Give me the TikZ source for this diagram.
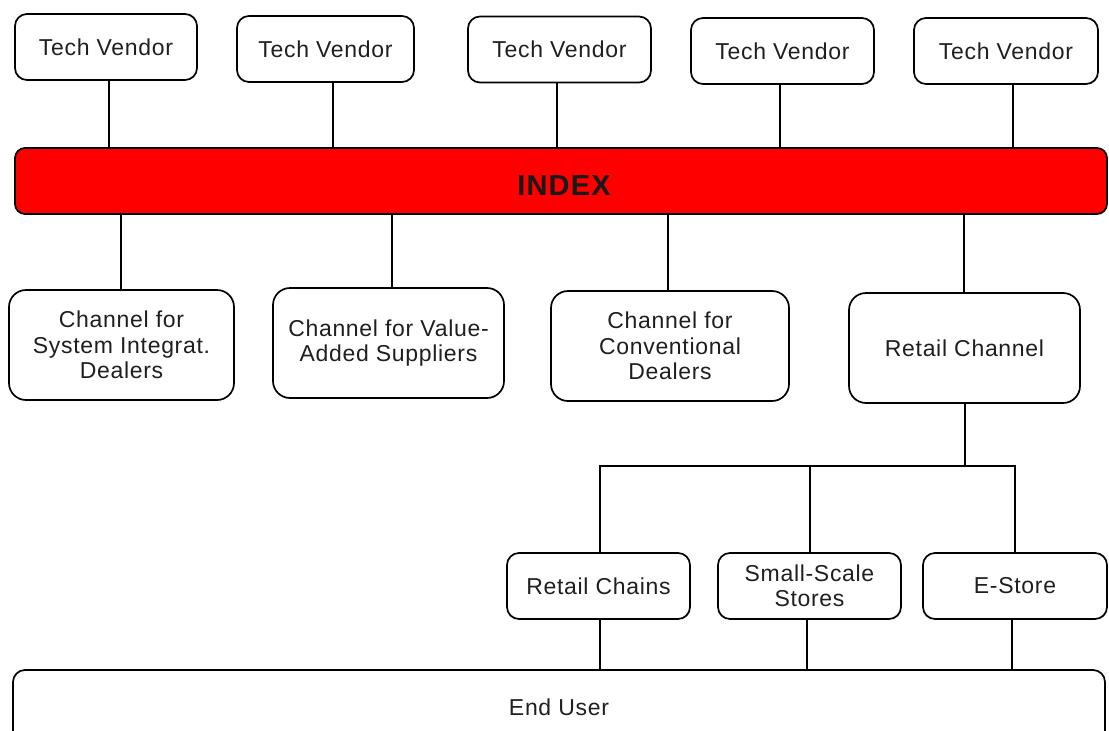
\documentclass[tikz,border=0pt]{standalone}
\usepackage{fontspec}
\setmainfont{Liberation Sans}
\usetikzlibrary{calc}
\begin{document}
\begin{tikzpicture}[x=1pt,y=-1pt,
  box/.style={draw=black, line width=1.7pt, rounded corners=12pt, fill=white,
    align=center, inner sep=0pt, text=black!88,
    font=\fontsize{23}{25.5}\selectfont\addfontfeatures{LetterSpace=3}},
  small/.style={box, minimum height=66pt},
  chan/.style={box, minimum height=110pt, rounded corners=17pt},
  link/.style={line width=2pt, draw=black}]
\useasboundingbox (0,0) rectangle (1109,731);
\clip (0,0) rectangle (1109,731);
\fill[white] (0,0) rectangle (1109,731);

% tech vendors
\node[small, minimum width=182pt] (tv1) at (106,47) {Tech Vendor};
\node[small, minimum width=177pt] (tv2) at (325.5,49) {Tech Vendor};
\node[small, minimum width=183pt] (tv3) at (559.5,49.5) {Tech Vendor};
\node[small, minimum width=183pt] (tv4) at (782.5,51) {Tech Vendor};
\node[small, minimum width=184pt] (tv5) at (1006,51) {Tech Vendor};

% index bar
\node[draw=black, line width=1.7pt, rounded corners=10pt, fill=red,
      minimum width=1092pt, minimum height=66pt, inner sep=0pt] (idx) at (561,181) {};
\node[font=\fontsize{29}{30}\selectfont\bfseries\addfontfeatures{LetterSpace=4}, text=black!90] (idxt) at (564,186) {INDEX};

% channels
\node[chan, minimum width=225pt] (ch1) at (121.5,345) {Channel for\\System Integrat.\\Dealers};
\node[chan, minimum width=231pt] (ch2) at (388.5,343) {Channel for Value-\\Added Suppliers};
\node[chan, minimum width=238pt] (ch3) at (670,346) {Channel for\\Conventional\\Dealers};
\node[chan, minimum width=231pt] (ch4) at (964.5,348) {Retail Channel};

% retail sub-channels
\node[small, minimum width=183pt] (rc1) at (598.5,586) {Retail Chains};
\node[small, minimum width=183pt] (rc2) at (809.5,586) {Small-Scale\\Stores};
\node[small, minimum width=184pt] (rc3) at (1015,586) {E-Store};

% end user
\node[box, minimum width=1092pt, minimum height=75pt] (eu) at (559,707.5) {End User};

% connectors vendors -> index
\draw[link] ([xshift=3pt]tv1.south) -- ([xshift=3pt]tv1.south |- idx.north);
\draw[link] ([xshift=7.5pt]tv2.south) -- ([xshift=7.5pt]tv2.south |- idx.north);
\draw[link] ([xshift=-2.5pt]tv3.south) -- ([xshift=-2.5pt]tv3.south |- idx.north);
\draw[link] ([xshift=-2.5pt]tv4.south) -- ([xshift=-2.5pt]tv4.south |- idx.north);
\draw[link] ([xshift=7pt]tv5.south) -- ([xshift=7pt]tv5.south |- idx.north);

% index -> channels
\draw[link] ([xshift=-0.5pt]ch1.north |- idx.south) -- ([xshift=-0.5pt]ch1.north);
\draw[link] ([xshift=3.5pt]ch2.north |- idx.south) -- ([xshift=3.5pt]ch2.north);
\draw[link] ([xshift=-2pt]ch3.north |- idx.south) -- ([xshift=-2pt]ch3.north);
\draw[link] ([xshift=-0.5pt]ch4.north |- idx.south) -- ([xshift=-0.5pt]ch4.north);

% retail channel -> bus -> sub-channels
\coordinate (bus) at (965,466);
\draw[link] (bus |- ch4.south) -- (bus);
\draw[link] ([xshift=1.5pt]rc1.north) |- (bus) -| (rc3.north);
\draw[link] ([xshift=0.5pt]rc2.north) -- ([xshift=0.5pt]rc2.north |- bus);

% sub-channels -> end user
\draw[link] ([xshift=1.5pt]rc1.south) -- ([xshift=1.5pt]rc1.south |- eu.north);
\draw[link] ([xshift=-2.5pt]rc2.south) -- ([xshift=-2.5pt]rc2.south |- eu.north);
\draw[link] ([xshift=-3pt]rc3.south) -- ([xshift=-3pt]rc3.south |- eu.north);
\end{tikzpicture}
\end{document}
